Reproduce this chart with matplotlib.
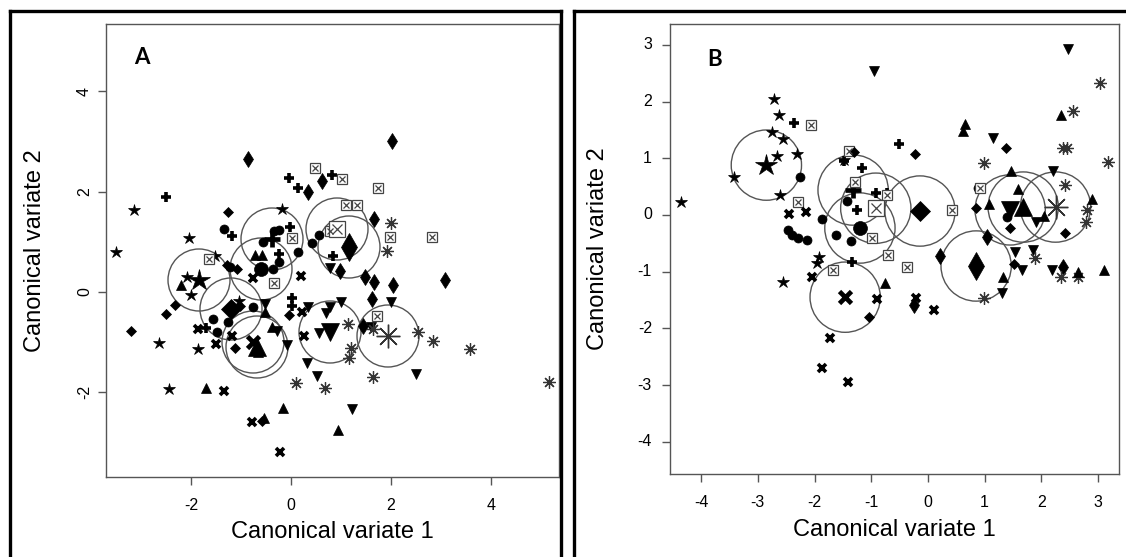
import matplotlib
matplotlib.use("Agg")
import matplotlib.pyplot as plt
from matplotlib.patches import Circle
from matplotlib.lines import Line2D

plt.rcParams['font.family'] = ['Liberation Sans', 'DejaVu Sans']

# ---- data: (x, y) pairs per group, first pair is the group mean ----
# Panel A
a_star = [(-1.84, 0.23), (-3.14, 1.63), (-3.50, 0.79), (-2.04, 1.07), (-1.52, 0.71),
          (-0.18, 1.65), (-2.08, 0.29), (-2.00, -0.07), (-1.04, -0.19), (-2.64, -1.03),
          (-1.86, -1.15), (-2.44, -1.95)]
a_dot = [(-0.60, 0.45), (-1.34, 1.25), (-0.34, 1.21), (-0.24, 1.23), (-0.56, 0.99),
         (0.14, 0.79), (-0.24, 0.59), (-0.36, 0.45), (-0.76, -0.31), (-1.56, -0.55),
         (-1.26, -0.61), (-1.48, -0.81), (0.56, 1.13), (0.42, 0.97), (-1.22, 0.49)]
a_plus = [(-0.38, 1.05), (-2.50, 1.89), (-0.04, 2.27), (0.14, 2.07), (0.82, 2.33),
          (-1.18, 1.11), (-0.02, 1.29), (-0.24, 0.75), (0.84, 0.71), (0.02, -0.13),
          (0.02, -0.29), (-1.70, -0.73)]
a_box = [(0.92, 1.25), (0.48, 2.47), (1.02, 2.25), (1.74, 2.07), (1.10, 1.73),
         (1.32, 1.73), (0.78, 1.21), (1.98, 1.09), (2.82, 1.09), (0.02, 1.07),
         (-1.64, 0.65), (-0.34, 0.17), (1.72, -0.49)]
a_thin = [(1.16, 0.89), (-0.86, 2.65), (2.02, 3.01), (0.62, 2.21), (0.34, 1.99),
          (1.66, 1.45), (0.98, 0.41), (1.48, 0.29), (1.66, 0.19), (2.04, 0.13),
          (3.08, 0.23), (1.62, -0.15), (1.44, -0.69)]
a_down = [(0.78, -0.81), (-0.52, -0.25), (-0.28, -0.79), (-0.08, -1.07), (0.78, 0.47),
          (0.34, -0.31), (0.78, -0.31), (1.00, -0.21), (0.70, -0.43), (0.56, -0.83),
          (1.60, -0.71), (2.00, -0.21), (0.32, -1.43), (0.52, -1.69), (2.50, -1.65),
          (1.22, -2.35)]
a_ast = [(1.94, -0.89), (2.00, 1.37), (1.92, 0.81), (1.14, -0.65), (1.64, -0.75),
         (2.54, -0.81), (2.84, -0.99), (3.58, -1.15), (5.16, -1.81), (1.20, -1.13),
         (1.16, -1.33), (0.10, -1.83), (0.68, -1.93), (1.64, -1.71)]
a_up = [(-0.68, -1.11), (-2.20, 0.13), (-0.72, 0.73), (-0.58, 0.73), (-0.52, -0.41),
        (-0.38, -0.71), (-0.66, -1.21), (-1.70, -1.93), (-0.16, -2.33), (0.94, -2.77),
        (-0.54, -2.53)]
a_diam = [(-1.20, -0.35), (-1.26, 1.59), (-1.28, 0.53), (-1.08, 0.45), (-2.32, -0.27),
          (-2.50, -0.45), (-3.20, -0.79), (-1.12, -1.13), (-0.04, -0.47), (-1.02, -0.29),
          (-0.58, -2.59)]
a_cross = [(-0.76, -1.01), (-0.76, 0.27), (0.20, 0.31), (0.22, -0.41), (0.26, -0.89),
           (-1.86, -0.75), (-1.50, -1.05), (-1.18, -0.89), (-1.34, -1.99), (-0.78, -2.61),
           (-0.22, -3.21)]

# Panel B
b_star = [(-2.85, 0.88), (-2.71, 2.05), (-2.62, 1.77), (-2.75, 1.47), (-2.55, 1.34),
          (-2.66, 1.04), (-2.31, 1.08), (-3.42, 0.67), (-2.61, 0.35), (-4.36, 0.23),
          (-2.55, -1.18), (-1.92, -0.74), (-1.95, -0.85), (-1.48, 0.97)]
b_dot = [(-1.20, -0.23), (-2.25, 0.67), (-1.87, -0.07), (-2.47, -0.26), (-2.40, -0.35),
         (-2.29, -0.41), (-2.13, -0.44), (-1.62, -0.35), (-1.42, 0.25), (-1.35, -0.46),
         (0.89, 0.48), (1.40, -0.04)]
b_plus = [(-1.32, 0.44), (-2.36, 1.62), (-0.51, 1.25), (-1.48, 0.95), (-1.16, 0.83),
          (-0.91, 0.39), (-1.25, 0.09), (-1.34, -0.83), (-0.72, 0.39)]
b_box = [(-0.92, 0.12), (-2.06, 1.59), (-2.29, 0.23), (-1.67, -0.97), (-1.39, 1.13),
         (-1.28, 0.58), (-0.72, 0.35), (-0.98, -0.41), (-0.70, -0.71), (-0.37, -0.92),
         (0.43, 0.09), (0.92, 0.48)]
b_diam = [(-0.14, 0.07), (-0.23, 1.08), (1.38, 1.18), (-1.30, 1.11), (0.85, 0.12),
          (1.44, -0.23), (-1.04, -1.80), (1.52, -0.86), (2.42, -0.32)]
b_thin = [(0.85, -0.90), (-0.24, -1.59), (0.22, -0.72), (1.05, -0.39), (2.39, -0.92)]
b_down = [(1.45, 0.09), (-0.95, 2.54), (2.47, 2.93), (1.15, 1.36), (2.21, 0.78),
          (1.91, -0.12), (1.54, -0.65), (1.86, -0.62), (1.66, -0.97), (2.18, -0.97),
          (1.31, -1.38)]
b_up = [(1.68, 0.14), (2.35, 1.77), (0.66, 1.61), (0.61, 1.48), (1.47, 0.78),
        (1.59, 0.46), (1.08, 0.19), (2.05, -0.02), (2.90, 0.28), (1.33, -1.09),
        (2.65, -1.01), (3.11, -0.97), (-0.75, -1.20)]
b_ast = [(2.25, 0.14), (3.04, 2.33), (2.55, 1.84), (2.39, 1.18), (2.46, 1.18),
         (3.18, 0.94), (0.99, 0.92), (2.41, 0.53), (2.81, 0.09), (2.78, -0.12),
         (1.89, -0.76), (2.34, -1.09), (2.64, -1.09), (0.99, -1.47)]
b_cross = [(-1.46, -1.45), (-2.45, 0.02), (-2.15, 0.05), (-2.04, -1.09), (-0.90, -1.48),
           (-0.21, -1.47), (0.11, -1.68), (-1.72, -2.17), (-1.87, -2.70), (-1.41, -2.95)]

CIRCLE_R = 0.62

# marker styles: (marker, size, mean size, edge width)
STYLES = {
    'star': ('*', 9, 16, 0.5),
    'dot': ('o', 6.5, 10, 0.5),
    'plus': ('+', 7, 12, 2.6),
    'thin': ('d', 8, 14, 0.5),
    'diam': ('D', 5.5, 10, 0.5),
    'down': ('v', 7.5, 13, 0.5),
    'up': ('^', 7.5, 13, 0.5),
    'cross': ('x', 5.5, 9, 2.6),
}


def draw_group(ax, pts, kind):
    mx, my = pts[0]
    ax.add_patch(Circle((mx, my), CIRCLE_R, fill=False, ec='#555555', lw=1.0, zorder=1))
    xs = [p[0] for p in pts[1:]]
    ys = [p[1] for p in pts[1:]]
    if kind == 'box':
        for x, y, s in [(xs, ys, 7), ([mx], [my], 12)]:
            ax.plot(x, y, 's', ms=s, mfc='white', mec='#444444', mew=0.9, ls='none', zorder=3)
            ax.plot(x, y, 'x', ms=s * 0.62, mec='#444444', mew=0.9, ls='none', zorder=4)
    elif kind == 'ast':
        ax.plot(xs, ys, marker=(8, 2, 0), ms=9, mec='#333333', mew=0.9, ls='none', zorder=3)
        ax.plot([mx], [my], marker=(8, 2, 0), ms=17, mec='#333333', mew=1.0, ls='none', zorder=3)
    else:
        m, s, ms_mean, mew = STYLES[kind]
        ax.plot(xs, ys, m, ms=s, color='black', mew=mew, ls='none', zorder=3)
        ax.plot([mx], [my], m, ms=ms_mean, color='black',
                mew=mew * (1.3 if m in '+x' else 1), ls='none', zorder=3)


def style_axes(ax, xlim, ylim, xticks, yticks, rot_y, xlab_y, ylab_x):
    ax.set_xlim(*xlim)
    ax.set_ylim(*ylim)
    ax.set_xticks(xticks)
    ax.set_yticks(yticks)
    ax.set_xticklabels([str(t) for t in xticks])
    ax.set_yticklabels([str(t) for t in yticks], rotation=90 if rot_y else 0,
                       va='center')
    for sp in ax.spines.values():
        sp.set_color('#555555')
        sp.set_linewidth(1.0)
    ax.tick_params(length=6, width=1, color='#555555', labelsize=11.5)
    ax.tick_params(axis='x', pad=9)
    ax.tick_params(axis='y', pad=4 if rot_y else 7)
    ax.set_xlabel('Canonical variate 1', fontsize=17, va='center')
    ax.set_ylabel('Canonical variate 2', fontsize=17, va='center')
    ax.xaxis.set_label_coords(0.5, xlab_y)
    ax.yaxis.set_label_coords(ylab_x, 0.5)


fig = plt.figure(figsize=(11.26, 5.57), dpi=100)

axA = fig.add_axes([106 / 1126, 1 - 477 / 557, 453 / 1126, 453 / 557])
axB = fig.add_axes([670 / 1126, 1 - 474 / 557, 449 / 1126, 450 / 557])

for pts, kind in [(a_star, 'star'), (a_dot, 'dot'), (a_plus, 'plus'), (a_box, 'box'),
                  (a_thin, 'thin'), (a_down, 'down'), (a_ast, 'ast'), (a_up, 'up'),
                  (a_diam, 'diam'), (a_cross, 'cross')]:
    draw_group(axA, pts, kind)

for pts, kind in [(b_star, 'star'), (b_dot, 'dot'), (b_plus, 'plus'), (b_box, 'box'),
                  (b_thin, 'thin'), (b_down, 'down'), (b_ast, 'ast'), (b_up, 'up'),
                  (b_diam, 'diam'), (b_cross, 'cross')]:
    draw_group(axB, pts, kind)

style_axes(axA, (-3.70, 5.36), (-3.71, 5.35), [-2, 0, 2, 4], [-2, 0, 2, 4], True,
           -0.121, -0.157)
style_axes(axB, (-4.55, 3.37), (-4.57, 3.37), [-4, -3, -2, -1, 0, 1, 2, 3],
           [-4, -3, -2, -1, 0, 1, 2, 3], False, -0.124, -0.160)

axA.text(0.08, 0.925, 'A', transform=axA.transAxes, fontsize=16, fontweight='bold',
         family=['Lato', 'DejaVu Sans'], ha='center', va='center')
axB.text(0.10, 0.92, 'B', transform=axB.transAxes, fontsize=16, fontweight='bold',
         family=['Lato', 'DejaVu Sans'], ha='center', va='center')

# outer panel frames
W, H = 1126.0, 557.0


def fx(px):
    return px / W


def fy(py):
    return 1 - py / H


frame_lw = 2.4
for x0, x1 in [(10, 561), (574, 1130)]:
    fig.add_artist(Line2D([fx(x0), fx(x0)], [fy(560), fy(11)], color='black', lw=frame_lw))
    fig.add_artist(Line2D([fx(x0), fx(x1)], [fy(11), fy(11)], color='black', lw=frame_lw))
    fig.add_artist(Line2D([fx(x1), fx(x1)], [fy(11), fy(560)], color='black', lw=frame_lw))

fig.savefig('out.png', dpi=100)
